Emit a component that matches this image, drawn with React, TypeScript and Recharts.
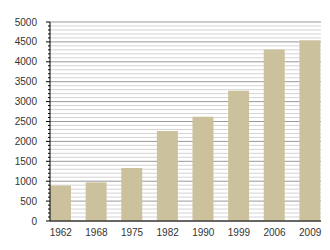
import { BarChart, Bar, XAxis, YAxis, CartesianGrid } from "recharts";

const years = ["1962", "1968", "1975", "1982", "1990", "1999", "2006", "2009"];
const values = [890, 970, 1330, 2260, 2620, 3270, 4310, 4540];
const yTicks = Array.from({ length: 51 }, (_, i) => i * 100);

const data = years.map((year, i) => ({ year, value: values[i] }));

const FONT = "'Liberation Sans', Arial, sans-serif";

function YTick(props: any) {
    const { x, y, payload } = props;
    const major = payload.value % 500 === 0;
    return (
        <g>
            <line x1={x - (major ? 4 : 2)} x2={x} y1={y} y2={y} stroke="#000" />
            {major && (
                <text x={x - 13} y={y} dy={3.5} textAnchor="end" fontSize={10} fontFamily={FONT} fill="#333">
                    {payload.value}
                </text>
            )}
        </g>
    );
}

function GridLine(props: any) {
    const { x1, x2, y1, y2, index } = props;
    const major = index % 5 === 0;
    return (
        <line
            key={props.key ?? index}
            x1={x1}
            x2={x2}
            y1={y1}
            y2={y2}
            stroke={major ? "#999999" : "#d4d4d4"}
            strokeWidth={1}
        />
    );
}

export default function App() {
    return (
        <div style={{ position: "absolute", left: 0, top: 0 }}>
            <BarChart
                width={330}
                height={250}
                data={data}
                margin={{ top: 22, right: 9, bottom: 0, left: 0 }}
            >
                <CartesianGrid vertical={false} horizontal={GridLine as any} />
                <XAxis
                    dataKey="year"
                    padding={{ left: -7, right: -7 }}
                    height={29}
                    tickLine={false}
                    axisLine={{ stroke: "#000" }}
                    tick={{ fontSize: 10, fontFamily: FONT, fill: "#333" }}
                    tickMargin={2}
                    interval={0}
                />
                <YAxis
                    width={50}
                    domain={[0, 5000]}
                    ticks={yTicks}
                    interval={0}
                    tickLine={false}
                    tickSize={0}
                    tickMargin={0}
                    axisLine={{ stroke: "#000" }}
                    tick={<YTick />}
                />
                <Bar dataKey="value" fill="#cbc29d" barSize={21} isAnimationActive={false} />
            </BarChart>
        </div>
    );
}
